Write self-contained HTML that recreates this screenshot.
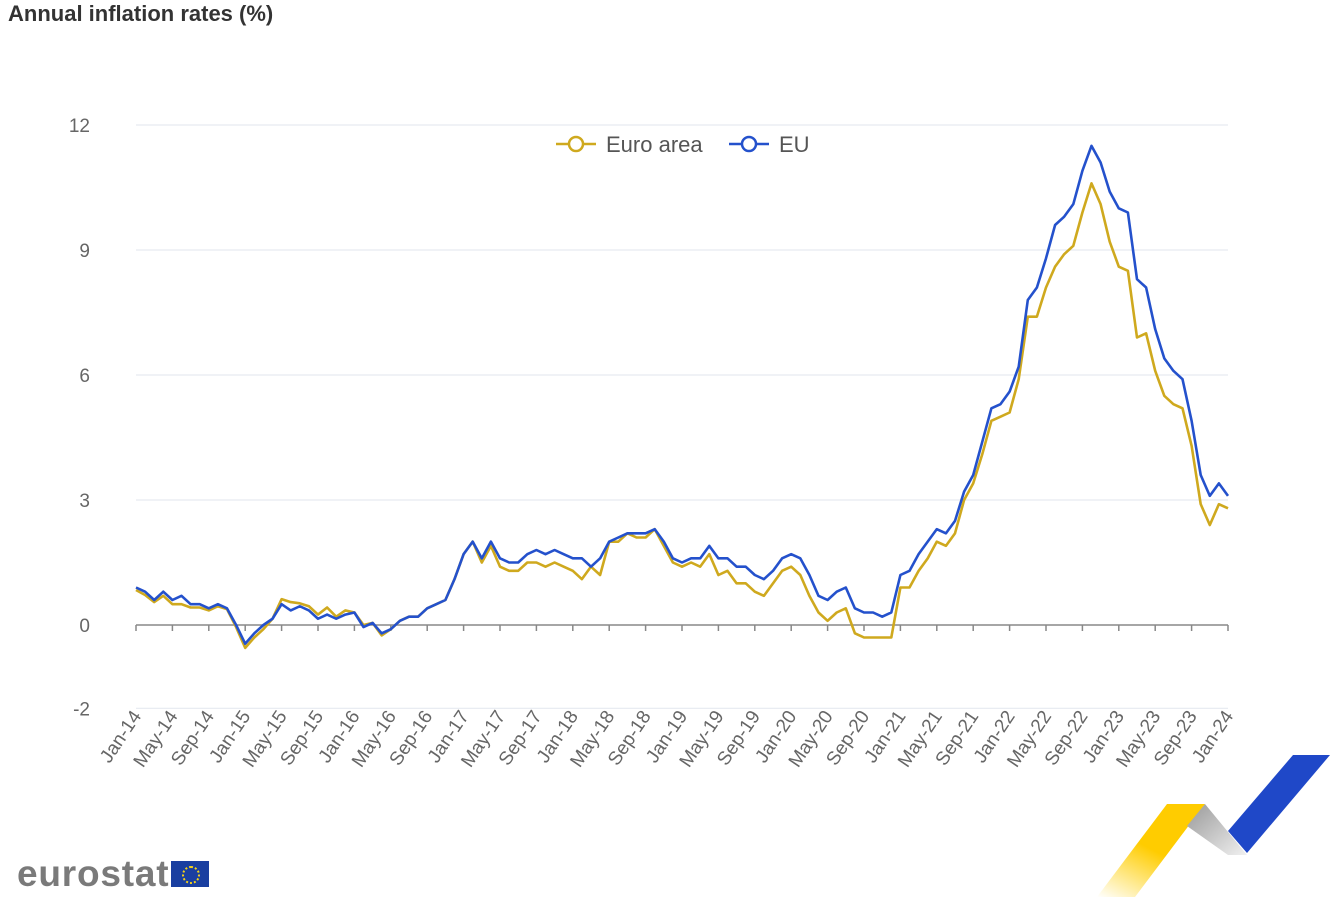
<!DOCTYPE html>
<html><head><meta charset="utf-8"><style>
body{margin:0;background:#fff;width:1330px;height:900px;overflow:hidden;font-family:"Liberation Sans",sans-serif}
#title{position:absolute;left:8px;top:1px;font-size:22px;font-weight:bold;color:#333}
#logo{position:absolute;left:17px;top:853px;font-size:37px;font-weight:bold;color:#7a7a7a;letter-spacing:0.8px;white-space:nowrap}
</style></head><body>
<div id="title">Annual inflation rates (%)</div>
<svg id="chart" width="1330" height="900" style="position:absolute;left:0;top:0"></svg>
<div id="logo">eurostat<span style="display:inline-block;width:38px;height:26px;background:#1a3fa0;vertical-align:-1px;margin-left:2px;position:relative"><span style="position:absolute;left:11px;top:5px;width:14px;height:14px;border:2px dotted #f3d21a;border-radius:50%"></span></span></div>
<script>
const euro=[0.84,0.72,0.55,0.7,0.5,0.5,0.42,0.42,0.35,0.45,0.38,-0.05,-0.55,-0.3,-0.1,0.15,0.62,0.55,0.52,0.45,0.25,0.42,0.2,0.35,0.3,0.0,0.05,-0.25,-0.1,0.1,0.2,0.2,0.4,0.5,0.6,1.1,1.7,2.0,1.5,1.9,1.4,1.3,1.3,1.5,1.5,1.4,1.5,1.4,1.3,1.1,1.4,1.2,2.0,2.0,2.2,2.1,2.1,2.3,1.9,1.5,1.4,1.5,1.4,1.7,1.2,1.3,1.0,1.0,0.8,0.7,1.0,1.3,1.4,1.2,0.7,0.3,0.1,0.3,0.4,-0.2,-0.3,-0.3,-0.3,-0.3,0.9,0.9,1.3,1.6,2.0,1.9,2.2,3.0,3.4,4.1,4.9,5.0,5.1,5.9,7.4,7.4,8.1,8.6,8.9,9.1,9.9,10.6,10.1,9.2,8.6,8.5,6.9,7.0,6.1,5.5,5.3,5.2,4.3,2.9,2.4,2.9,2.8];
const eu=[0.9,0.8,0.6,0.8,0.6,0.7,0.5,0.5,0.4,0.5,0.4,0.0,-0.45,-0.2,0.0,0.15,0.5,0.35,0.45,0.35,0.15,0.25,0.15,0.25,0.3,-0.05,0.05,-0.2,-0.1,0.1,0.2,0.2,0.4,0.5,0.6,1.1,1.7,2.0,1.6,2.0,1.6,1.5,1.5,1.7,1.8,1.7,1.8,1.7,1.6,1.6,1.4,1.6,2.0,2.1,2.2,2.2,2.2,2.3,2.0,1.6,1.5,1.6,1.6,1.9,1.6,1.6,1.4,1.4,1.2,1.1,1.3,1.6,1.7,1.6,1.2,0.7,0.6,0.8,0.9,0.4,0.3,0.3,0.2,0.3,1.2,1.3,1.7,2.0,2.3,2.2,2.5,3.2,3.6,4.4,5.2,5.3,5.6,6.2,7.8,8.1,8.8,9.6,9.8,10.1,10.9,11.5,11.1,10.4,10.0,9.9,8.3,8.1,7.1,6.4,6.1,5.9,4.9,3.6,3.1,3.4,3.1];
const yTicks=[-2,0,3,6,9,12];
const mon=["Jan","May","Sep"];
const NS="http://www.w3.org/2000/svg";
const svg=document.getElementById('chart');
const x0=136,x1=1228;
const X=i=>x0+(x1-x0)*i/120;
const Y=v=>625-v*(500/12);
function mk(t,a,p){const e=document.createElementNS(NS,t);for(const k in a)e.setAttribute(k,a[k]);(p||svg).appendChild(e);return e;}
yTicks.forEach(v=>{
  const g=mk('line',{x1:x0,x2:x1,y1:Y(v),y2:Y(v),stroke:v===0?'#888':'#e6e9f0','stroke-width':v===0?1.5:1.2});
  
  
  const t=mk('text',{x:90,y:Y(v)+7,'text-anchor':'end','font-size':19,fill:'#666'});
  t.textContent=v;
  
  
});
for(let i=0;i<=120;i+=4){
  const tk=mk('line',{x1:X(i),x2:X(i),y1:625,y2:631,stroke:'#888','stroke-width':1.5});
  
  
  const lbl=mon[(i%12)/4]+'-'+(14+Math.floor(i/12));
  const t=mk('text',{x:X(i)+6,y:716,'text-anchor':'end','font-size':19,fill:'#666',transform:`rotate(-56 ${X(i)+6} 716)`});
  t.textContent=lbl;
  
  
}
function series(d,c,n){
  const p=mk('polyline',{points:d.map((v,i)=>X(i)+','+Y(v)).join(' '),fill:'none',stroke:c,'stroke-width':2.6,'stroke-linejoin':'round'});
  
  
}
series(euro,'#cfa91e','euro-area-line');
series(eu,'#2451cc','eu-line');
function leg(x,c,txt,n){
  const g=mk('g',{});
  
  
  mk('line',{x1:x,x2:x+40,y1:144,y2:144,stroke:c,'stroke-width':2.5},g);
  mk('circle',{cx:x+20,cy:144,r:7,fill:'#fff',stroke:c,'stroke-width':2.5},g);
  const t=mk('text',{x:x+50,y:152,'font-size':22,fill:'#555'},g);t.textContent=txt;
}
leg(556,'#cfa91e','Euro area','legend-euro-area');
leg(729,'#2451cc','EU','legend-eu');
const defs=mk('defs',{});
defs.innerHTML='<linearGradient id="gy" x1="0" y1="1" x2="0.6" y2="0"><stop offset="0" stop-color="#ffd000" stop-opacity="0"/><stop offset="0.6" stop-color="#ffcc00"/></linearGradient><linearGradient id="gg" x1="0" y1="0" x2="1" y2="1"><stop offset="0" stop-color="#999"/><stop offset="1" stop-color="#f0f0f0"/></linearGradient>';
const deco=mk('g',{});


mk('polygon',{points:'1167,804 1205,804 1135,897 1097,897',fill:'url(#gy)'},deco);
mk('polygon',{points:'1187,826 1205,804 1247,855 1228,855',fill:'url(#gg)'},deco);
mk('polygon',{points:'1293,755 1330,755 1247,853 1228,831',fill:'#1f48c8'},deco);
</script>
</body></html>
